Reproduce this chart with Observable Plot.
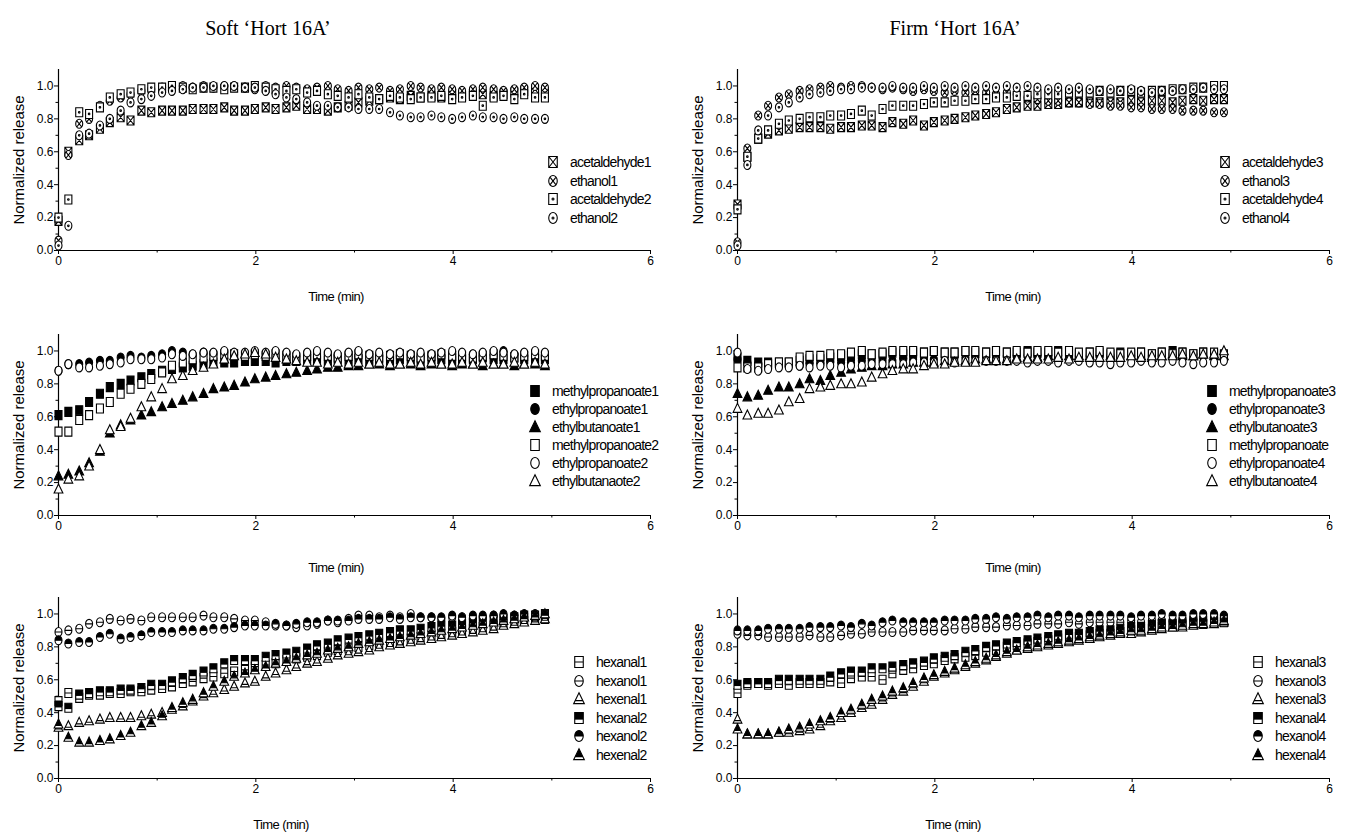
<!DOCTYPE html>
<html><head><meta charset="utf-8">
<script src="https://cdn.jsdelivr.net/npm/d3@7"></script>
<script src="https://cdn.jsdelivr.net/npm/@observablehq/plot@0.6"></script>
<style>
body{margin:0;background:#fff;}
#root{position:relative;width:1355px;height:834px;overflow:hidden;background:#fff;font-family:"Liberation Sans",Arial,sans-serif;color:#000;}
.panel{position:absolute;}
.title{position:absolute;font-family:"Liberation Serif","Times New Roman",serif;font-size:20px;transform:translate(-50%,-50%);white-space:nowrap;}
.ylab{position:absolute;font-size:15px;transform:translate(-50%,-50%) rotate(-90deg);white-space:nowrap;}
.xlab{position:absolute;font-size:13px;letter-spacing:-0.6px;transform:translate(-50%,-50%);white-space:nowrap;}
.legend{position:absolute;font-size:14px;letter-spacing:-0.8px;white-space:nowrap;}
.legend .row{position:absolute;left:0;display:flex;align-items:center;height:16px;transform:translateY(-50%);}
.legend svg{overflow:visible;margin-right:10px;}
</style>
</head><body>
<div id="root"></div>
<script>
// ---------- data ----------
const times = [0,0.1,0.21,0.31,0.42,0.52,0.63,0.73,0.84,0.94,1.05,1.15,
  1.26,1.36,1.47,1.57,1.68,1.78,1.89,1.99,2.1,2.2,2.31,2.41,
  2.52,2.62,2.73,2.83,2.94,3.04,3.15,3.25,3.36,3.46,3.57,3.67,
  3.78,3.88,3.99,4.09,4.2,4.3,4.41,4.51,4.62,4.72,4.83,4.93];

// Soft 'Hort 16A' – aldehyde / alcohol
const soft_acetaldehyde1 = [0.18,0.60,0.67,0.70,0.74,0.78,0.81,0.79,0.85,0.84,0.85,0.85,
  0.85,0.86,0.86,0.86,0.87,0.85,0.85,0.86,0.87,0.86,0.87,0.88,
  0.86,0.86,0.85,0.87,0.88,0.90,0.91,0.92,0.93,0.92,0.94,0.93,
  0.94,0.93,0.95,0.94,0.95,0.95,0.94,0.95,0.96,0.97,0.98,0.96];
const soft_ethanol1 = [0.06,0.58,0.77,0.80,0.88,0.91,0.93,0.95,0.97,0.98,0.99,1.00,
  1.00,0.99,1.00,0.99,1.00,1.00,0.99,0.98,1.00,0.99,1.00,0.99,
  0.98,0.99,1.00,0.98,0.97,0.99,0.98,0.99,0.97,0.98,1.00,0.99,
  0.98,0.99,0.98,0.97,0.98,0.99,0.98,0.97,0.98,0.99,1.00,0.99];
const soft_acetaldehyde2 = [0.20,0.31,0.84,0.83,0.87,0.93,0.95,0.96,0.98,0.99,0.99,1.00,
  0.99,0.98,0.99,0.99,0.98,0.99,0.99,1.00,0.99,0.98,0.97,0.98,
  0.96,0.97,0.95,0.94,0.93,0.95,0.93,0.92,0.94,0.93,0.92,0.93,
  0.93,0.94,0.92,0.93,0.94,0.88,0.93,0.94,0.92,0.95,0.93,0.93];
const soft_ethanol2 = [0.03,0.15,0.70,0.71,0.76,0.80,0.85,0.90,0.92,0.94,0.96,0.97,
  0.98,0.99,0.99,1.00,1.00,1.00,0.99,0.99,0.97,0.95,0.93,0.92,
  0.90,0.88,0.88,0.87,0.87,0.86,0.86,0.86,0.84,0.82,0.81,0.81,
  0.82,0.81,0.80,0.81,0.82,0.81,0.81,0.80,0.81,0.80,0.80,0.80];

// Soft – esters
const soft_methylpropanoate1 = [0.61,0.63,0.64,0.69,0.74,0.78,0.80,0.82,0.84,0.86,0.88,0.89,
  0.90,0.91,0.92,0.93,0.93,0.93,0.94,0.94,0.94,0.93,0.94,0.94,
  0.95,0.94,0.94,0.95,0.94,0.95,0.94,0.95,0.94,0.95,0.95,0.94,
  0.95,0.95,0.94,0.95,0.95,0.96,0.95,0.95,0.96,0.95,0.95,0.95];
const soft_ethylpropanoate1 = [0.88,0.92,0.92,0.93,0.94,0.94,0.96,0.97,0.96,0.97,0.98,1.00,
  0.99,0.98,0.99,0.98,0.99,0.98,0.97,0.98,0.98,0.97,0.98,0.97,
  0.98,0.97,0.98,0.97,0.98,0.97,0.98,0.97,0.98,0.97,0.98,0.97,
  0.98,0.97,0.98,0.97,0.98,0.97,0.98,1.00,0.98,0.97,0.98,0.97];
const soft_ethylbutanoate1 = [0.24,0.25,0.27,0.32,0.39,0.50,0.55,0.58,0.61,0.63,0.66,0.68,
  0.70,0.72,0.74,0.77,0.78,0.79,0.81,0.83,0.84,0.85,0.86,0.87,
  0.88,0.89,0.90,0.90,0.91,0.91,0.92,0.92,0.91,0.92,0.92,0.91,
  0.92,0.92,0.91,0.92,0.92,0.91,0.92,0.92,0.91,0.92,0.92,0.91];
const soft_methylpropanoate2 = [0.51,0.51,0.58,0.61,0.65,0.69,0.74,0.77,0.80,0.83,0.87,0.91,
  0.93,0.95,0.96,0.97,0.98,0.98,0.97,0.98,0.97,0.98,0.97,0.96,
  0.97,0.98,0.97,0.96,0.97,0.98,0.97,0.96,0.97,0.98,0.97,0.96,
  0.97,0.98,0.97,0.97,0.96,0.97,0.98,0.97,0.96,0.97,0.98,0.97];
const soft_ethylpropanoate2 = [0.88,0.92,0.90,0.90,0.91,0.92,0.93,0.95,0.95,0.95,0.96,0.98,
  0.97,0.98,0.99,0.99,1.00,0.99,0.99,1.00,0.99,1.00,0.99,0.98,
  0.99,1.00,0.99,0.98,0.99,1.00,0.98,0.99,0.98,0.99,0.98,0.99,
  0.98,0.99,1.00,0.99,0.98,0.99,1.00,0.99,0.98,0.99,1.00,0.99];
const soft_ethylbutanoate2 = [0.16,0.22,0.24,0.30,0.40,0.52,0.54,0.59,0.66,0.72,0.77,0.83,
  0.85,0.88,0.90,0.92,0.95,0.97,0.98,0.99,0.98,0.96,0.95,0.94,
  0.93,0.93,0.92,0.93,0.92,0.93,0.92,0.93,0.92,0.92,0.93,0.92,
  0.93,0.92,0.92,0.93,0.92,0.93,0.92,0.92,0.93,0.92,0.93,0.92];

// Soft – C6 compounds
const soft_hexanal1 = [0.47,0.52,0.49,0.51,0.51,0.52,0.52,0.53,0.53,0.54,0.55,0.56,
  0.58,0.59,0.61,0.62,0.64,0.65,0.66,0.68,0.69,0.70,0.72,0.73,
  0.74,0.75,0.77,0.78,0.79,0.80,0.81,0.82,0.83,0.84,0.85,0.86,
  0.87,0.88,0.89,0.90,0.91,0.92,0.93,0.94,0.95,0.96,0.97,0.97];
const soft_hexanol1 = [0.89,0.90,0.91,0.94,0.95,0.97,0.96,0.97,0.96,0.98,0.98,0.98,
  0.98,0.98,0.99,0.98,0.98,0.97,0.96,0.96,0.95,0.93,0.93,0.92,
  0.93,0.94,0.96,0.95,0.97,0.99,0.99,0.98,0.99,0.98,1.00,0.98,
  0.98,0.97,0.98,0.98,0.97,0.98,0.99,0.98,0.99,0.98,0.99,0.98];
const soft_hexenal1 = [0.31,0.32,0.34,0.35,0.36,0.37,0.37,0.37,0.38,0.39,0.40,0.42,
  0.44,0.47,0.50,0.52,0.54,0.56,0.58,0.59,0.62,0.64,0.66,0.68,
  0.70,0.71,0.73,0.75,0.76,0.77,0.78,0.80,0.81,0.82,0.83,0.84,
  0.85,0.86,0.87,0.88,0.89,0.90,0.91,0.93,0.94,0.95,0.96,0.97];
const soft_hexanal2 = [0.44,0.43,0.51,0.52,0.53,0.53,0.54,0.54,0.55,0.57,0.57,0.59,
  0.61,0.63,0.65,0.67,0.70,0.72,0.72,0.72,0.74,0.75,0.76,0.77,
  0.79,0.81,0.82,0.84,0.85,0.86,0.87,0.88,0.89,0.90,0.90,0.91,
  0.92,0.93,0.93,0.94,0.95,0.96,0.96,0.97,0.98,0.99,0.99,1.00];
const soft_hexanol2 = [0.84,0.82,0.83,0.83,0.86,0.88,0.85,0.86,0.87,0.89,0.89,0.89,
  0.90,0.90,0.90,0.91,0.91,0.92,0.93,0.93,0.93,0.94,0.93,0.94,
  0.95,0.95,0.96,0.96,0.96,0.97,0.97,0.97,0.98,0.97,0.98,0.98,
  0.98,0.98,0.99,0.98,0.99,0.99,0.99,1.00,0.99,1.00,1.00,1.00];
const soft_hexenal2 = [0.33,0.25,0.22,0.22,0.23,0.24,0.26,0.28,0.32,0.34,0.38,0.43,
  0.46,0.48,0.52,0.56,0.59,0.62,0.64,0.66,0.68,0.70,0.71,0.73,
  0.75,0.76,0.78,0.79,0.80,0.82,0.83,0.84,0.85,0.86,0.87,0.88,
  0.89,0.90,0.91,0.92,0.93,0.94,0.95,0.96,0.97,0.98,0.99,1.00];

// Firm 'Hort 16A' – aldehyde / alcohol
const firm_acetaldehyde3 = [0.28,0.57,0.68,0.71,0.73,0.74,0.75,0.75,0.75,0.74,0.75,0.75,
  0.76,0.76,0.75,0.78,0.77,0.79,0.76,0.78,0.79,0.80,0.81,0.82,
  0.83,0.84,0.86,0.87,0.88,0.88,0.89,0.89,0.90,0.90,0.90,0.90,
  0.90,0.90,0.91,0.90,0.91,0.91,0.90,0.91,0.92,0.91,0.92,0.92];
const firm_ethanol3 = [0.05,0.62,0.82,0.88,0.93,0.95,0.97,0.98,0.99,1.00,0.99,1.00,
  1.00,0.99,0.98,0.99,0.98,0.97,0.98,0.97,0.96,0.97,0.96,0.97,
  0.96,0.95,0.96,0.95,0.93,0.92,0.91,0.91,0.90,0.90,0.89,0.89,
  0.88,0.88,0.87,0.87,0.86,0.86,0.86,0.85,0.85,0.85,0.84,0.84];
const firm_acetaldehyde4 = [0.25,0.57,0.68,0.73,0.77,0.79,0.80,0.81,0.81,0.82,0.82,0.83,
  0.85,0.82,0.86,0.88,0.88,0.88,0.89,0.90,0.90,0.91,0.91,0.92,
  0.92,0.93,0.93,0.94,0.94,0.95,0.95,0.95,0.96,0.96,0.96,0.97,
  0.96,0.97,0.97,0.96,0.97,0.97,0.98,0.98,0.99,0.99,1.00,1.00];
const firm_ethanol4 = [0.03,0.52,0.73,0.82,0.87,0.90,0.93,0.95,0.96,0.97,0.98,0.98,
  0.99,0.99,0.99,1.00,0.99,0.99,1.00,0.99,1.00,0.99,1.00,0.99,
  1.00,0.99,1.00,0.99,1.00,0.99,0.98,0.99,0.98,0.99,0.98,0.97,
  0.98,0.97,0.98,0.97,0.96,0.97,0.97,0.98,0.98,0.99,0.98,0.98];

// Firm – esters
const firm_methylpropanoate3 = [0.96,0.94,0.93,0.93,0.93,0.93,0.94,0.95,0.95,0.96,0.97,0.97,
  0.98,0.98,0.98,0.99,0.98,0.99,0.99,1.00,0.99,0.99,1.00,0.99,
  0.99,1.00,0.99,0.99,1.00,0.99,0.99,1.00,0.99,0.98,0.99,0.99,
  0.98,0.99,0.98,0.99,0.98,0.99,1.00,0.99,0.98,0.99,0.98,0.97];
const firm_ethylpropanoate3 = [0.95,0.93,0.92,0.92,0.91,0.91,0.91,0.92,0.92,0.93,0.93,0.93,
  0.94,0.94,0.94,0.94,0.95,0.95,0.95,0.95,0.95,0.96,0.96,0.96,
  0.96,0.96,0.97,0.97,0.97,0.97,0.97,0.97,0.98,0.97,0.97,0.97,
  0.97,0.96,0.97,0.96,0.97,0.97,0.98,0.97,0.98,0.97,0.98,0.97];
const firm_ethylbutanoate3 = [0.74,0.72,0.73,0.76,0.78,0.78,0.80,0.83,0.82,0.85,0.87,0.89,
  0.90,0.91,0.91,0.92,0.92,0.93,0.93,0.93,0.94,0.94,0.94,0.95,
  0.95,0.95,0.95,0.96,0.96,0.96,0.97,0.97,0.97,0.97,0.97,0.96,
  0.97,0.96,0.97,0.97,0.96,0.97,0.98,0.97,0.97,0.98,0.97,0.97];
const firm_methylpropanoate = [0.90,0.90,0.90,0.92,0.93,0.93,0.96,0.97,0.97,0.98,0.98,0.99,
  1.00,0.98,0.99,1.00,1.00,1.00,0.99,1.00,0.99,0.99,1.00,1.00,
  0.99,1.00,0.99,1.00,0.99,1.00,1.00,0.99,1.00,0.99,0.99,1.00,
  0.99,0.98,0.99,0.99,0.98,0.99,0.98,0.99,0.98,0.99,0.99,0.98];
const firm_ethylpropanoate4 = [0.99,0.89,0.88,0.89,0.90,0.90,0.91,0.90,0.91,0.91,0.90,0.91,
  0.91,0.92,0.92,0.92,0.92,0.93,0.93,0.93,0.94,0.93,0.94,0.94,
  0.94,0.94,0.94,0.94,0.93,0.94,0.94,0.93,0.94,0.94,0.93,0.93,
  0.92,0.93,0.93,0.94,0.93,0.93,0.94,0.93,0.92,0.93,0.93,0.94];
const firm_ethylbutanoate4 = [0.65,0.61,0.62,0.62,0.64,0.69,0.71,0.77,0.78,0.79,0.80,0.80,
  0.81,0.84,0.86,0.88,0.89,0.89,0.91,0.92,0.92,0.93,0.93,0.93,
  0.94,0.94,0.94,0.95,0.95,0.95,0.95,0.96,0.95,0.96,0.96,0.96,
  0.96,0.96,0.97,0.96,0.97,0.97,0.97,0.98,0.97,0.98,0.98,1.00];

// Firm – C6 compounds
const firm_hexanal3 = [0.52,0.57,0.58,0.57,0.58,0.57,0.58,0.58,0.58,0.59,0.58,0.61,
  0.62,0.62,0.60,0.64,0.66,0.67,0.69,0.70,0.72,0.73,0.74,0.75,
  0.77,0.78,0.80,0.81,0.82,0.83,0.84,0.85,0.86,0.86,0.87,0.88,
  0.88,0.89,0.90,0.91,0.91,0.92,0.93,0.93,0.94,0.94,0.95,0.95];
const firm_hexanol3 = [0.88,0.87,0.87,0.86,0.86,0.86,0.86,0.87,0.86,0.86,0.87,0.88,
  0.88,0.89,0.89,0.89,0.89,0.90,0.90,0.90,0.90,0.91,0.91,0.92,
  0.92,0.92,0.93,0.93,0.93,0.94,0.94,0.94,0.95,0.94,0.95,0.95,
  0.95,0.95,0.96,0.95,0.96,0.96,0.96,0.96,0.97,0.96,0.96,0.96];
const firm_hexenal3 = [0.36,0.27,0.27,0.27,0.28,0.28,0.29,0.30,0.32,0.35,0.37,0.40,
  0.43,0.45,0.48,0.51,0.53,0.56,0.59,0.62,0.64,0.66,0.68,0.70,
  0.72,0.74,0.76,0.78,0.79,0.80,0.81,0.82,0.83,0.84,0.85,0.86,
  0.87,0.88,0.88,0.89,0.90,0.91,0.92,0.92,0.93,0.94,0.94,0.95];
const firm_hexanal4 = [0.57,0.58,0.58,0.58,0.60,0.60,0.60,0.60,0.60,0.62,0.64,0.65,
  0.65,0.67,0.67,0.68,0.69,0.70,0.71,0.73,0.74,0.75,0.77,0.78,
  0.80,0.81,0.82,0.83,0.84,0.85,0.86,0.87,0.88,0.88,0.89,0.90,
  0.90,0.91,0.92,0.92,0.93,0.94,0.94,0.95,0.96,0.96,0.97,0.97];
const firm_hexanol4 = [0.90,0.90,0.90,0.91,0.91,0.91,0.91,0.92,0.92,0.92,0.93,0.92,
  0.94,0.93,0.95,0.96,0.95,0.95,0.95,0.95,0.96,0.96,0.96,0.97,
  0.97,0.98,0.97,0.98,0.98,0.99,0.98,0.99,0.99,0.98,0.99,0.99,
  0.99,0.99,0.98,0.99,0.99,1.00,0.99,0.99,1.00,1.00,1.00,0.99];
const firm_hexenal4 = [0.30,0.27,0.27,0.27,0.28,0.30,0.31,0.33,0.35,0.37,0.40,0.42,
  0.45,0.48,0.50,0.53,0.55,0.58,0.61,0.63,0.65,0.67,0.69,0.71,
  0.73,0.75,0.77,0.78,0.80,0.81,0.82,0.83,0.84,0.85,0.86,0.87,
  0.88,0.89,0.90,0.90,0.91,0.92,0.92,0.93,0.94,0.94,0.95,0.96];

// labels & ticks
const titles = ["Soft \u2018Hort 16A\u2019", "Firm \u2018Hort 16A\u2019"];
const yLabel = "Normalized release";
const xLabel = "Time (min)";
const yTicks = [0, 0.2, 0.4, 0.6, 0.8, 1.0];
const yMinorTicks = [0.1, 0.3, 0.5, 0.7, 0.9];
const xTicks = [0, 2, 4, 6];
const xMinorTicks = [1, 3, 5];
const legend1 = ["acetaldehyde1","ethanol1","acetaldehyde2","ethanol2"];
const legend2 = ["methylpropanoate1","ethylpropanoate1","ethylbutanoate1","methylpropanoate2","ethylpropanoate2","ethylbutanaote2"];
const legend3 = ["hexanal1","hexanol1","hexenal1","hexanal2","hexanol2","hexenal2"];
const legend4 = ["acetaldehyde3","ethanol3","acetaldehyde4","ethanol4"];
const legend5 = ["methylpropanoate3","ethylpropanoate3","ethylbutanoate3","methylpropanoate","ethylpropanoate4","ethylbutanoate4"];
const legend6 = ["hexanal3","hexanol3","hexenal3","hexanal4","hexanol4","hexenal4"];

// ---------- marker shapes ----------
const W = 3.5, H = 4.5, K = 0.5523;
function ell(c, rx, ry) {
  c.moveTo(rx, 0);
  c.bezierCurveTo(rx, ry*K, rx*K, ry, 0, ry);
  c.bezierCurveTo(-rx*K, ry, -rx, ry*K, -rx, 0);
  c.bezierCurveTo(-rx, -ry*K, -rx*K, -ry, 0, -ry);
  c.bezierCurveTo(rx*K, -ry, rx, -ry*K, rx, 0);
  c.closePath();
}
function rect(c){ c.moveTo(-W,-H); c.lineTo(W,-H); c.lineTo(W,H); c.lineTo(-W,H); c.closePath(); }
const TT = -1.15*H, TB = 0.85*H, TW = 1.25*W;
function tri(c){ c.moveTo(0,TT); c.lineTo(TW,TB); c.lineTo(-TW,TB); c.closePath(); }
function dotc(c){ c.moveTo(0.8,0); c.arc(0,0,0.8,0,2*Math.PI); }
const S = {
  sq: {draw(c){ rect(c); }},
  cir: {draw(c){ ell(c,W,H); }},
  tri: {draw(c){ tri(c); }},
  sqX: {draw(c){ rect(c); c.moveTo(-W,-H); c.lineTo(W,H); c.moveTo(-W,H); c.lineTo(W,-H); }},
  cirX: {draw(c){ ell(c,W,H); const a=0.707; c.moveTo(-W*a,-H*a); c.lineTo(W*a,H*a); c.moveTo(-W*a,H*a); c.lineTo(W*a,-H*a); }},
  sqDot: {draw(c){ rect(c); dotc(c); }},
  cirDot: {draw(c){ ell(c,W,H); dotc(c); }},
  sqLine: {draw(c){ rect(c); c.moveTo(-W,0); c.lineTo(W,0); }},
  cirLine: {draw(c){ ell(c,W,H); c.moveTo(-W,0); c.lineTo(W,0); }},
  triLine: {draw(c){ tri(c); const y=0.3*H, f=(y-TT)/(TB-TT); c.moveTo(-TW*f,y); c.lineTo(TW*f,y); }},
  sqTop: {draw(c){ const y=0.3*H; c.moveTo(-W,-H); c.lineTo(W,-H); c.lineTo(W,y); c.lineTo(-W,y); c.closePath(); }},
  cirTop: {draw(c){ c.moveTo(-W,0); c.bezierCurveTo(-W,-H*K,-W*K,-H,0,-H); c.bezierCurveTo(W*K,-H,W,-H*K,W,0); c.closePath(); }},
  triTop: {draw(c){ const y=0.3*H, f=(y-TT)/(TB-TT); c.moveTo(0,TT); c.lineTo(TW*f,y); c.lineTo(-TW*f,y); c.closePath(); }}
};
const open = s => [{sym:S[s], fill:"white", stroke:"black"}];
const solid = s => [{sym:S[s], fill:"black", stroke:"black"}];
const half = (s, top) => [{sym:S[s], fill:"white", stroke:"black"}, {sym:S[top], fill:"black", stroke:"none"}];
const ST = {
  sqX: open("sqX"), cirX: open("cirX"), sqDot: open("sqDot"), cirDot: open("cirDot"),
  sqFill: solid("sq"), cirFill: solid("cir"), triFill: solid("tri"),
  sqOpen: open("sq"), cirOpen: open("cir"), triOpen: open("tri"),
  sqLine: open("sqLine"), cirLine: open("cirLine"), triLine: open("triLine"),
  sqHalf: half("sqLine","sqTop"), cirHalf: half("cirLine","cirTop"), triHalf: half("triLine","triTop")
};

// ---------- panels ----------
const panels = [
  {col:0,row:0, legend:legend1, values:[soft_acetaldehyde1,soft_ethanol1,soft_acetaldehyde2,soft_ethanol2], styles:["sqX","cirX","sqDot","cirDot"], lx:553, ly:162, ls:18.5},
  {col:0,row:1, legend:legend2, values:[soft_methylpropanoate1,soft_ethylpropanoate1,soft_ethylbutanoate1,soft_methylpropanoate2,soft_ethylpropanoate2,soft_ethylbutanoate2], styles:["sqFill","cirFill","triFill","sqOpen","cirOpen","triOpen"], lx:535, ly:391, ls:18},
  {col:0,row:2, legend:legend3, values:[soft_hexanal1,soft_hexanol1,soft_hexenal1,soft_hexanal2,soft_hexanol2,soft_hexenal2], styles:["sqLine","cirLine","triLine","sqHalf","cirHalf","triHalf"], lx:579, ly:662, ls:18.5},
  {col:1,row:0, legend:legend4, values:[firm_acetaldehyde3,firm_ethanol3,firm_acetaldehyde4,firm_ethanol4], styles:["sqX","cirX","sqDot","cirDot"], lx:1225, ly:162, ls:18.5},
  {col:1,row:1, legend:legend5, values:[firm_methylpropanoate3,firm_ethylpropanoate3,firm_ethylbutanoate3,firm_methylpropanoate,firm_ethylpropanoate4,firm_ethylbutanoate4], styles:["sqFill","cirFill","triFill","sqOpen","cirOpen","triOpen"], lx:1212, ly:391, ls:18},
  {col:1,row:2, legend:legend6, values:[firm_hexanal3,firm_hexanol3,firm_hexenal3,firm_hexanal4,firm_hexanol4,firm_hexenal4], styles:["sqLine","cirLine","triLine","sqHalf","cirHalf","triHalf"], lx:1258, ly:662, ls:18.5}
];

const root = document.getElementById("root");
const PW = 670, PH = 280, ML = 58, MR = 20, MT = 69, MB = 30;
const colLeft = [0, 679];
const rowTop = [0, 265, 528];
const fmt = d3.format(".1f");

function addDiv(cls, text, x, y) {
  const d = document.createElement("div");
  d.className = cls; d.textContent = text;
  d.style.left = x + "px"; d.style.top = y + "px";
  root.appendChild(d);
  return d;
}

// charts first
for (const p of panels) {
  const marks = [];
  p.values.forEach((vals, i) => {
    const rows = times.map((t, j) => ({t, v: vals[j]})).filter(d => d.v != null);
    for (const layer of ST[p.styles[i]]) {
      marks.push(Plot.dot(rows, {x: "t", y: "v", r: 4, symbol: layer.sym, fill: layer.fill, stroke: layer.stroke, strokeWidth: 1.1}));
    }
  });
  const chart = Plot.plot({
    width: PW, height: PH,
    marginLeft: ML, marginRight: MR, marginTop: MT, marginBottom: MB,
    x: {domain: [0, 6]},
    y: {domain: [0, 1.1]},
    style: {fontFamily: "'Liberation Sans', Arial, sans-serif", fontSize: "12px", color: "black", background: "transparent", overflow: "visible"},
    marks: [
      Plot.ruleX([0], {stroke: "black", strokeWidth: 1.2}),
      Plot.ruleY([0], {stroke: "black", strokeWidth: 1.2}),
      Plot.axisY(yTicks, {tickSize: 4, tickPadding: 1, tickFormat: fmt, label: null, stroke: "black"}),
      Plot.axisY(yMinorTicks, {tickSize: 2.5, tickFormat: () => "", label: null, stroke: "black"}),
      Plot.axisX(xTicks, {tickSize: 4, tickPadding: 2, tickFormat: d => String(d), label: null, stroke: "black"}),
      Plot.axisX(xMinorTicks, {tickSize: 2.5, tickFormat: () => "", label: null, stroke: "black"}),
      ...marks
    ]
  });
  const wrap = document.createElement("div");
  wrap.className = "panel";
  wrap.style.left = colLeft[p.col] + "px";
  wrap.style.top = rowTop[p.row] + "px";
  wrap.appendChild(chart);
  root.appendChild(wrap);
}

// labels and legends on top
for (const p of panels) {
  const y0 = rowTop[p.row] + PH - MB;
  addDiv("ylab", yLabel, colLeft[p.col] + 18, rowTop[p.row] + (MT + PH - MB) / 2);
  let xlx = colLeft[p.col] + 336 - (p.col ? 2 : 0);
  let xly = y0 + (p.row === 1 ? 52 : 46);
  if (p.row === 2) { xlx = p.col ? 953 : 281; xly = 824; }
  addDiv("xlab", xLabel, xlx, xly);

  const lg = document.createElement("div");
  lg.className = "legend";
  lg.style.left = (p.lx - 7) + "px";
  lg.style.top = "0px";
  p.legend.forEach((lab, i) => {
    const row = document.createElement("div");
    row.className = "row";
    row.style.top = (p.ly + i * p.ls) + "px";
    const svg = d3.create("svg").attr("width", 14).attr("height", 14);
    const g = svg.append("g").attr("transform", "translate(7,7) scale(1.22)");
    for (const layer of ST[p.styles[i]]) {
      const path = d3.path(); layer.sym.draw(path, 0);
      g.append("path").attr("d", path.toString()).attr("fill", layer.fill).attr("stroke", layer.stroke).attr("stroke-width", 0.9);
    }
    row.appendChild(svg.node());
    const span = document.createElement("span");
    span.textContent = lab;
    row.appendChild(span);
    lg.appendChild(row);
  });
  root.appendChild(lg);
}

addDiv("title", titles[0], 268, 28);
addDiv("title", titles[1], 955, 28);
</script>
</body></html>
